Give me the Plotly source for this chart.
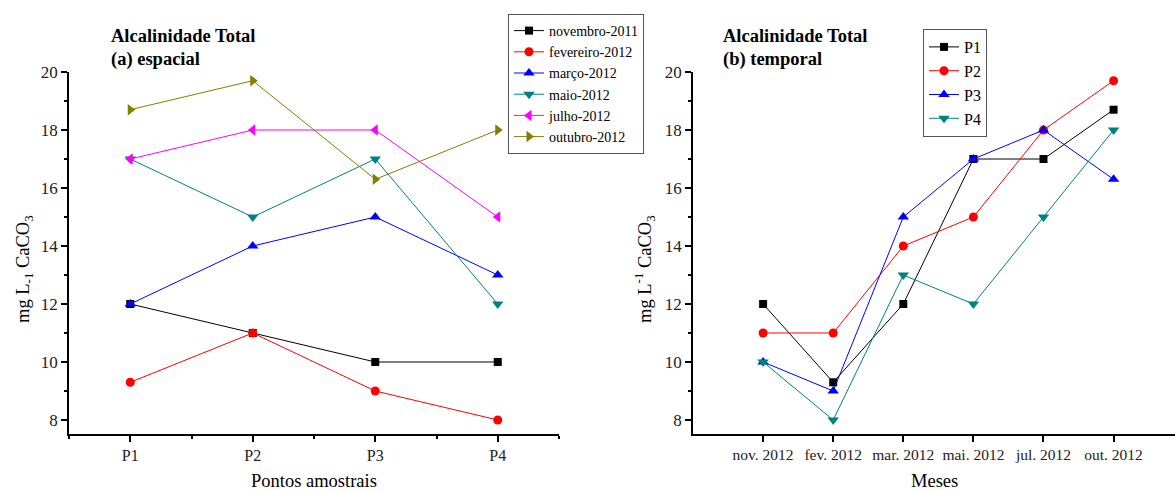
import plotly.graph_objects as go

# ---- data: (a) espacial ----
points = ["P1", "P2", "P3", "P4"]
spatial_names = ["novembro-2011", "fevereiro-2012", "março-2012",
                 "maio-2012", "julho-2012", "outubro-2012"]
nov_2011 = [12, 11, 10, 10]
fev_2012 = [9.3, 11, 9, 8]
mar_2012 = [12, 14, 15, 13]
mai_2012 = [17, 15, 17, 12]
jul_2012 = [17, 18, 18, 15]
out_2012 = [18.7, 19.7, 16.3, 18]

# ---- data: (b) temporal ----
months = ["nov. 2012", "fev. 2012", "mar. 2012", "mai. 2012", "jul. 2012", "out. 2012"]
temporal_names = ["P1", "P2", "P3", "P4"]
p1 = [12, 9.3, 12, 17, 17, 18.7]
p2 = [11, 11, 14, 15, 18, 19.7]
p3 = [10, 9, 15, 17, 18, 16.3]
p4 = [10, 8, 13, 12, 15, 18]

# ---- styles ----
colors6 = ["#000000", "#FF0000", "#0000FF", "#008080", "#FF00FF", "#808000"]
symbols6 = ["square", "circle", "triangle-up", "triangle-down", "triangle-left", "triangle-right"]
sizes6 = [8, 9, 10, 10, 10, 10]

W, H = 1175, 490
SERIF = "Liberation Serif, Times New Roman, serif"

fig = go.Figure()

xpos_left = list(range(1, len(points) + 1))
for name, vals, c, s, sz in zip(spatial_names,
                                [nov_2011, fev_2012, mar_2012, mai_2012, jul_2012, out_2012],
                                colors6, symbols6, sizes6):
    fig.add_trace(go.Scatter(x=xpos_left, y=vals, name=name, mode="lines+markers",
                             line=dict(color=c, width=1),
                             marker=dict(symbol=s, size=sz, color=c),
                             xaxis="x", yaxis="y", legend="legend"))

xpos_right = list(range(1, len(months) + 1))
for name, vals, c, s, sz in zip(temporal_names, [p1, p2, p3, p4],
                                colors6[:4], symbols6[:4], sizes6[:4]):
    fig.add_trace(go.Scatter(x=xpos_right, y=vals, name=name, mode="lines+markers",
                             line=dict(color=c, width=1),
                             marker=dict(symbol=s, size=sz, color=c),
                             xaxis="x2", yaxis="y2", legend="legend2"))

ydom = [(H - 434) / H, (H - 72) / H]
yrange = [7.517, 20]

def axis_common(fs):
    return dict(showline=True, linecolor="#000000", linewidth=1.5, mirror=False,
                showgrid=False, zeroline=False, ticks="outside", ticklen=6,
                tickwidth=1.5, tickcolor="#000000", automargin=False,
                tickfont=dict(family=SERIF, size=fs, color="#222222"))

minor_y = dict(tickmode="array", tickvals=[9, 11, 13, 15, 17, 19],
               ticklen=3, tickwidth=1.5, tickcolor="#000000", ticks="outside")

fig.update_layout(
    width=W, height=H,
    margin=dict(l=0, r=0, t=0, b=0),
    paper_bgcolor="white", plot_bgcolor="white",
    font=dict(family=SERIF, color="#000000"),
    xaxis=dict(domain=[69 / W, 559 / W], range=[0.5, 4.5], anchor="y",
               tickmode="array", tickvals=xpos_left, ticktext=points,
               minor=dict(tickmode="array", tickvals=[0.5, 1.5, 2.5, 3.5, 4.5],
                          ticklen=3, tickwidth=1.5, tickcolor="#000000", ticks="outside"),
               **axis_common(16)),
    yaxis=dict(domain=ydom, range=yrange, anchor="x", tickmode="array",
               tickvals=[8, 10, 12, 14, 16, 18, 20], minor=minor_y,
               **axis_common(17)),
    xaxis2=dict(domain=[693 / W, 1.0], range=[0, 6.876], anchor="y2",
                tickmode="array", tickvals=xpos_right, ticktext=months,
                **axis_common(15.5)),
    yaxis2=dict(domain=ydom, range=yrange, anchor="x2", tickmode="array",
                tickvals=[8, 10, 12, 14, 16, 18, 20], minor=minor_y,
                **axis_common(17)),
    legend=dict(x=508 / W, y=1 - 14 / H, xanchor="left", yanchor="top",
                bordercolor="#555555", borderwidth=1, bgcolor="white",
                font=dict(family=SERIF, size=14, color="#000000"),
                tracegroupgap=0, itemwidth=30),
    legend2=dict(x=923 / W, y=1 - 29 / H, xanchor="left", yanchor="top",
                 bordercolor="#555555", borderwidth=1, bgcolor="white",
                 font=dict(family=SERIF, size=16, color="#000000"),
                 tracegroupgap=0, itemwidth=30),
    showlegend=True,
)

ann = []
def add_text(text, x, y, size, bold=False, angle=0, xanchor="left"):
    ann.append(dict(text=("<b>%s</b>" % text) if bold else text, x=x / W, y=1 - y / H,
                    xref="paper", yref="paper", showarrow=False, textangle=angle,
                    xanchor=xanchor, yanchor="middle",
                    font=dict(family=SERIF, size=size, color="#000000")))

add_text("Alcalinidade Total", 109, 36, 18.5, bold=True)
add_text("(a) espacial", 109, 59, 18.5, bold=True)
add_text("Alcalinidade Total", 721, 36, 18.5, bold=True)
add_text("(b) temporal", 721, 59, 18.5, bold=True)
add_text("Pontos amostrais", 314, 481, 18.5, xanchor="center")
add_text("Meses", 934, 481, 18.5, xanchor="center")
add_text("mg L<sub>-1</sub> CaCO<sub>3</sub>", 24, 269, 18.5, angle=-90, xanchor="center")
add_text("mg L<sup>-1</sup> CaCO<sub>3</sub>", 644, 269, 18.5, angle=-90, xanchor="center")
fig.update_layout(annotations=ann)

fig.write_html("out.html")
